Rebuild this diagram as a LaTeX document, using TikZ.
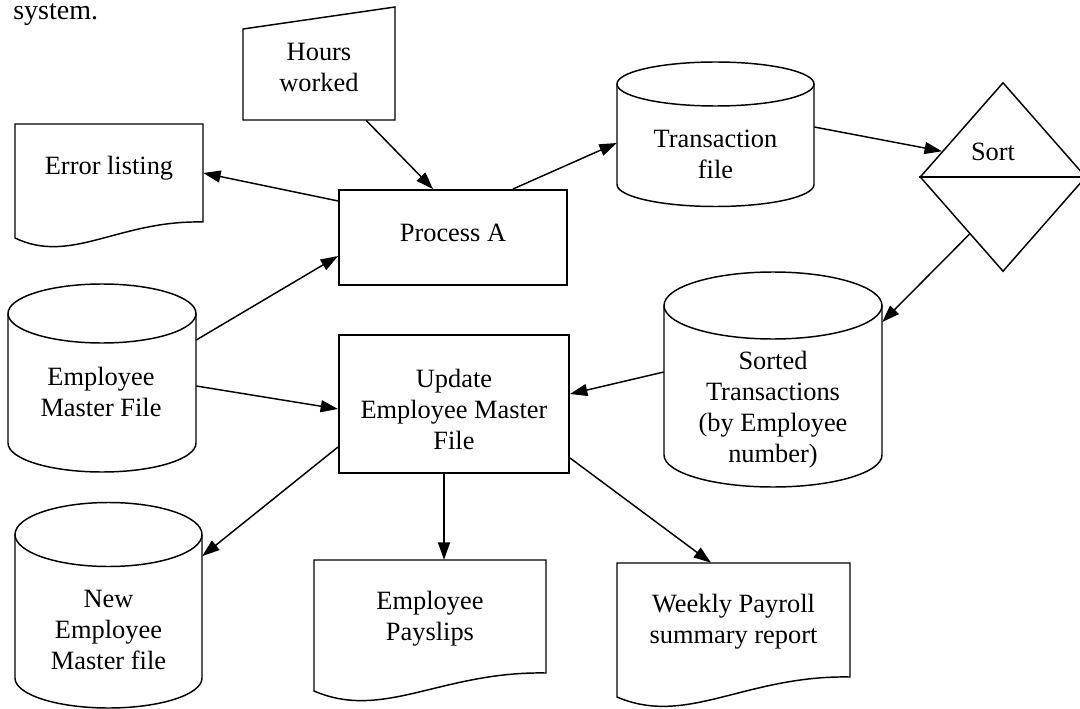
\documentclass[tikz,border=0pt]{standalone}
\usepackage{fontspec}
\setmainfont{Liberation Serif}
\usetikzlibrary{shapes.geometric,arrows.meta,calc}
\tikzset{
  shp/.style={draw=black, line width=1.1pt},
  frame/.style={rectangle, inner sep=0pt, draw=none},
  procbox/.style={rectangle, inner sep=0pt, draw=black, line width=1.5pt},
  sortbox/.style={diamond, inner sep=0pt, draw=black, line width=1.1pt},
  txt/.style={font=\fontsize{19.8pt}{23.25pt}\selectfont, align=center, inner sep=0pt},
  conn/.style={draw=black, line width=1.1pt, -{Triangle[length=13pt,width=9pt]}},
}
\begin{document}
\begin{tikzpicture}[x=0.75pt,y=-0.75pt]
\useasboundingbox (0,0) rectangle (1080,709);

% closing word of the preceding paragraph
\node[txt, font=\fontsize{21pt}{24pt}\selectfont, anchor=base west] (sys) at (13,20) {system.};

% ---------- manual input: hours worked ----------
\draw[shp] (243,29) -- (395,7) -- (395,120) -- (243,120) -- cycle;
\node[frame, minimum width=114pt, minimum height=84.75pt,
      label={[txt,yshift=-3pt]center:{Hours\\worked}}] (hours) at (319,63.5) {};

% ---------- document: error listing ----------
\draw[shp] (15,124) -- (203,124) -- (203,222)
  .. controls (118.4,220) and (71.4,265) .. (15,238) -- cycle;
\node[frame, minimum width=141pt, minimum height=85.5pt,
      label={[txt,yshift=9.75pt]center:{Error listing}}] (err) at (109,181) {};

% ---------- process A ----------
\node[procbox, minimum width=171pt, minimum height=71.25pt,
      label={[txt,yshift=3.4pt]center:{Process A}}] (proc) at (453,237.5) {};

% ---------- stored data: transaction file ----------
\draw[shp] (617,84) -- (617,184.5)
  arc[start angle=180, end angle=360, x radius=73.875pt, y radius=16.5pt] -- (814,84);
\draw[shp] (715.5,84) ellipse[x radius=73.875pt, y radius=16.5pt];
\node[frame, minimum width=147.75pt, minimum height=108.4pt,
      label={[txt,yshift=-14.8pt]center:{Transaction\\file}}] (trans) at (715.5,134.25) {};

% ---------- sort ----------
\node[sortbox, minimum width=124.5pt, minimum height=141.75pt,
      label={[txt,xshift=-7.5pt,yshift=18.75pt]center:{Sort}}] (sort) at (1003,177) {};
\draw[shp] (sort.west) -- (sort.east);

% ---------- stored data: sorted transactions ----------
\draw[shp] (664,305.5) -- (664,455)
  arc[start angle=180, end angle=360, x radius=81.75pt, y radius=24pt] -- (882,305.5);
\draw[shp] (773,305.5) ellipse[x radius=81.75pt, y radius=25.125pt];
\node[frame, minimum width=163.5pt, minimum height=161.25pt,
      label={[txt,yshift=-22.9pt]center:{Sorted\\Transactions\\(by Employee\\number)}}] (sorted) at (773,379.5) {};

% ---------- update employee master file ----------
\node[procbox, minimum width=172.5pt, minimum height=103.5pt,
      label={[txt,yshift=-3.75pt]center:{Update\\Employee Master\\File}}] (update) at (454,404) {};

% ---------- stored data: employee master file ----------
\draw[shp] (8,313.5) -- (8,443)
  arc[start angle=180, end angle=360, x radius=70.5pt, y radius=21.75pt] -- (196,313.5);
\draw[shp] (102,313.5) ellipse[x radius=70.5pt, y radius=22.125pt];
\node[frame, minimum width=141pt, minimum height=141pt,
      label={[txt,xshift=-0.75pt,yshift=-10.5pt]center:{Employee\\Master File}}] (emf) at (102,378) {};

% ---------- stored data: new employee master file ----------
\draw[shp] (15,534.5) -- (15,678)
  arc[start angle=180, end angle=360, x radius=70.125pt, y radius=22.5pt] -- (202,534.5);
\draw[shp] (108.5,534.5) ellipse[x radius=70.125pt, y radius=24pt];
\node[frame, minimum width=140.25pt, minimum height=154.1pt,
      label={[txt,yshift=-18.6pt]center:{New\\Employee\\Master file}}] (newemf) at (108.5,605.25) {};

% ---------- document: employee payslips ----------
\draw[shp] (314,560) -- (546,560) -- (546,673)
  .. controls (441.6,671) and (383.6,721) .. (314,691) -- cycle;
\node[frame, minimum width=174pt, minimum height=98.25pt,
      label={[txt,yshift=5.25pt]center:{Employee\\Payslips}}] (pay) at (430,625.5) {};

% ---------- document: weekly payroll summary ----------
\draw[shp] (617,563) -- (850,563) -- (850,677)
  .. controls (745.2,675) and (686.9,727) .. (617,697) -- cycle;
\node[frame, minimum width=174.75pt, minimum height=100.5pt,
      label={[txt,yshift=6.4pt]center:{Weekly Payroll\\summary report}}] (weekly) at (733.5,630) {};

% ---------- data flows ----------
\draw[conn] ([xshift=35.25pt]hours.south) -- ([xshift=-15pt]proc.north);
\draw[conn] ([yshift=27.4pt]proc.west) -- ([yshift=6pt]err.east);
\draw[conn] ([xshift=45pt]proc.north) -- ([yshift=-6.56pt]trans.west);
\draw[conn] ([yshift=5.44pt]trans.east) -- ($(sort.west)!0.27!(sort.north)$);
\draw[conn] ($(sort.west)!0.6!(sort.south)$) -- ([yshift=43.1pt]sorted.east);
\draw[conn] ([yshift=5.6pt]sorted.west) -- ([yshift=7.5pt]update.east);
\draw[conn] ([yshift=28.5pt]emf.east) -- ([yshift=-13.9pt]proc.west);
\draw[conn] ([yshift=-6pt]emf.east) -- ([yshift=-3.75pt]update.west);
\draw[conn] ([yshift=-32.25pt]update.west) -- ([yshift=36.9pt]newemf.east);
\draw[conn] ([xshift=-7.5pt]update.south) -- ([xshift=10.5pt]pay.north);
\draw[conn] ([yshift=-40.5pt]update.east) -- ([xshift=-16.9pt]weekly.north);
\end{tikzpicture}
\end{document}
